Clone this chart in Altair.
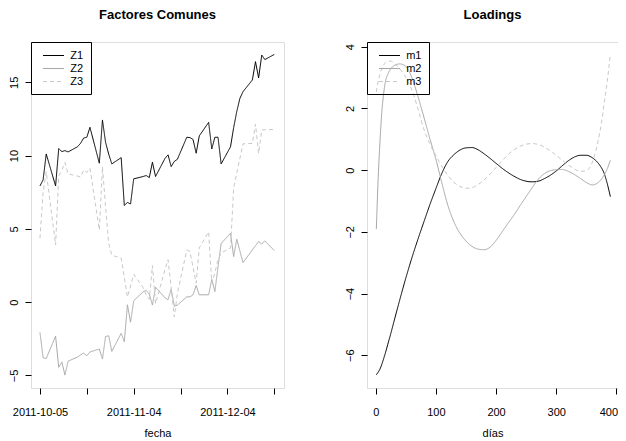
import altair as alt
import pandas as pd

# ---------------- data ----------------
fechas = ["2011-10-05", "2011-10-06", "2011-10-07", "2011-10-10", "2011-10-11", "2011-10-12", "2011-10-13", "2011-10-14",
          "2011-10-17", "2011-10-18", "2011-10-19", "2011-10-20", "2011-10-21",
          "2011-10-24", "2011-10-25", "2011-10-26", "2011-10-27", "2011-10-28",
          "2011-10-31", "2011-11-01", "2011-11-02", "2011-11-03", "2011-11-04",
          "2011-11-07", "2011-11-08", "2011-11-09", "2011-11-10", "2011-11-11",
          "2011-11-14", "2011-11-15", "2011-11-16", "2011-11-17", "2011-11-18",
          "2011-11-21", "2011-11-22", "2011-11-23", "2011-11-24", "2011-11-25",
          "2011-11-28", "2011-11-29", "2011-11-30", "2011-12-01", "2011-12-02",
          "2011-12-05", "2011-12-06", "2011-12-07", "2011-12-08", "2011-12-09",
          "2011-12-12", "2011-12-13", "2011-12-14", "2011-12-15", "2011-12-16",
          "2011-12-19"]

z1 = [7.93, 8.34, 10.11, 7.93, 10.48, 10.27, 10.34, 10.25,
      10.6, 10.84, 11.2, 11.25, 11.93,
      9.48, 12.43, 10.9, 10.1, 9.43,
      9.86, 6.6, 6.8, 6.7, 8.41,
      8.57, 8.64, 8.5, 9.55, 8.57,
      9.8, 10.05, 9.25, 9.6, 9.75,
      11.25, 11.23, 11.1, 10.16, 11.34,
      12.27, 10.45, 11.25, 11.25, 9.43,
      10.6, 11.9, 13.0, 13.9, 14.36,
      15.16, 16.41, 15.3, 16.86, 16.55,
      16.9]

z2 = [-2.07, -3.8, -3.85, -2.32, -4.45, -4.08, -4.98, -4.03,
      -3.75, -3.6, -3.48, -3.66, -3.4,
      -3.2, -3.88, -2.34, -2.3, -3.36,
      -2.13, -2.7, -0.18, -1.37, 0.09,
      0.7, 0.8, 0.55, -0.2, 1.02,
      0.3, 0.16, 0.89, -0.28, -0.2,
      0.36, 0.36, 0.5, 1.13, 0.5,
      0.5, 1.55, 0.72, 2.4, 4.0,
      4.7, 3.11, 4.29, 3.5, 2.7,
      3.56, 3.85, 4.13, 3.97, 4.18,
      3.52]

z3 = [4.36, 7.5, 8.9, 3.9, 8.6, 9.0, 9.53, 8.75,
      8.6, 8.55, 9.0, 8.85, 9.15,
      4.93, 9.24, 6.5, 4.0, 3.2,
      3.0, 1.7, 0.35, 1.1, 1.9,
      1.0, 0.5, 0.2, 2.5, -0.1,
      2.2, 2.9, 1.0, -1.0, 0.6,
      3.56, 3.45, 2.4, 1.3, 3.7,
      4.8, 1.3, 2.0, 2.9, 3.35,
      3.7, 7.77, 8.8, 9.8, 10.8,
      10.83, 12.15, 10.15, 11.74, 11.76,
      11.78]

dias = [1, 4, 7, 10, 13, 16, 20, 25, 30, 40, 50, 60, 70, 80, 90, 100, 110, 120, 130, 140,
        150, 160, 170, 180, 190, 200, 210, 220, 230, 240, 250, 260, 270, 280, 290, 300,
        310, 320, 330, 340, 350, 360, 370, 375, 380, 385, 390]

m1 = [-6.63, -6.55, -6.45, -6.3, -6.12, -5.93, -5.65, -5.3, -4.93, -4.2, -3.5, -2.85, -2.25,
      -1.68, -1.12, -0.6, -0.1, 0.28, 0.5, 0.65, 0.72, 0.73, 0.66, 0.53, 0.38, 0.22, 0.06,
      -0.08, -0.2, -0.3, -0.36, -0.38, -0.36, -0.28, -0.17, -0.03, 0.14, 0.3, 0.42, 0.48,
      0.48, 0.4, 0.22, 0.08, -0.12, -0.45, -0.86]

m2 = [-1.91, -0.3, 0.9, 1.85, 2.45, 2.85, 3.1, 3.28, 3.38, 3.44, 3.36, 3.0, 2.4, 1.72, 1.02,
      0.35, -0.42, -1.15, -1.68, -2.05, -2.3, -2.47, -2.56, -2.58, -2.5, -2.28, -2.0, -1.72,
      -1.45, -1.15, -0.86, -0.57, -0.3, -0.12, -0.02, 0.01, 0.02, -0.04, -0.14, -0.27, -0.4,
      -0.48, -0.4, -0.3, -0.15, 0.05, 0.32]

m3 = [2.53, 2.87, 3.1, 3.28, 3.4, 3.48, 3.53, 3.53, 3.47, 3.28, 3.0, 2.6, 2.0, 1.33, 0.85,
      0.47, 0.12, -0.18, -0.4, -0.53, -0.59, -0.57, -0.47, -0.32, -0.13, 0.08, 0.3, 0.5,
      0.66, 0.77, 0.84, 0.86, 0.83, 0.75, 0.63, 0.48, 0.32, 0.17, 0.04, -0.04, -0.02, 0.25,
      0.98, 1.5, 2.2, 2.9, 3.76]

series_left = ["Z1", "Z2", "Z3"]
series_right = ["m1", "m2", "m3"]
fecha_ticks = ["2011-10-05", "2011-10-20", "2011-11-04", "2011-11-19", "2011-12-04", "2011-12-19"]
dias_ticks = [0, 100, 200, 300, 400]
left_y_ticks = [-5, 0, 5, 10, 15]
right_y_ticks = [-6, -4, -2, 0, 2, 4]

# ---------------- tables ----------------
n = len(fechas)
left_df = pd.DataFrame({
    "fecha": fechas * 3,
    "valor": z1 + z2 + z3,
    "serie": [series_left[0]] * n + [series_left[1]] * n + [series_left[2]] * n,
})
k = len(dias)
right_df = pd.DataFrame({
    "dias": dias * 3,
    "valor": m1 + m2 + m3,
    "serie": [series_right[0]] * k + [series_right[1]] * k + [series_right[2]] * k,
})

FONT = "Liberation Sans"
COLORS = ["#000000", "#A8A8A8", "#C8C8C8"]
DASHES = [[1, 0], [1, 0], [4, 3]]


def dt(s, hours=0):
    y, m, d = (int(p) for p in s.split("-"))
    return alt.DateTime(year=y, month=m, date=d, hours=hours, utc=True)


def legend():
    return alt.Legend(
        title=None, orient="top-left", offset=0, strokeColor="black",
        padding=7, symbolType="M-1.75,0H1.75", symbolSize=144, symbolStrokeWidth=1,
        symbolOffset=9, labelOffset=10.2, rowPadding=1,
        labelFont=FONT, labelFontSize=11, labelColor="black",
    )


def y_axis(vals):
    return alt.Axis(
        values=vals, grid=False, domain=False, tickColor="black", tickSize=6,
        labelAngle=270, labelAlign="center", labelBaseline="bottom", labelPadding=6,
        labelFont=FONT, labelFontSize=11, labelColor="black", labelFlush=False,
        labelOverlap=False,
    )


def x_axis(title, vals, label_expr=None, label_offset=None):
    kw = dict(
        values=vals, title=title, grid=False, domain=False, tickColor="black", tickSize=6,
        labelFont=FONT, labelFontSize=11, labelColor="black", labelPadding=12,
        labelFlush=False, labelOverlap=False, labelBaseline="top",
        titleFont=FONT, titleFontSize=11, titleFontWeight="normal", titleColor="black",
        titlePadding=10,
    )
    if label_expr:
        kw["labelExpr"] = label_expr
    if label_offset is not None:
        kw["labelOffset"] = label_offset
    return alt.Axis(**kw)


def title(text):
    return alt.TitleParams(text, font=FONT, fontSize=13, fontWeight="bold", color="black",
                           anchor="middle", frame="group", offset=10, baseline="alphabetic")


left = alt.Chart(left_df, title=title("Factores Comunes")).mark_line(strokeWidth=1).encode(
    x=alt.X("fecha:T",
            scale=alt.Scale(type="utc", domain=[dt("2011-10-02", 3), dt("2011-12-22", 3)], nice=False),
            axis=x_axis("fecha", [dt(s) for s in fecha_ticks],
                        "utcdate(datum.value) < 10 ? utcFormat(datum.value, '%Y-%m-%d') : ''")),
    y=alt.Y("valor:Q", title=None, scale=alt.Scale(domain=[-5.86, 17.75], nice=False, zero=False),
            axis=y_axis(left_y_ticks)),
    color=alt.Color("serie:N", scale=alt.Scale(domain=series_left, range=COLORS), legend=legend()),
    strokeDash=alt.StrokeDash("serie:N", scale=alt.Scale(domain=series_left, range=DASHES), legend=legend()),
    detail="serie:N",
).properties(width=253, height=346)

right = alt.Chart(right_df, title=title("Loadings")).mark_line(strokeWidth=1, interpolate="monotone").encode(
    x=alt.X("dias:Q", scale=alt.Scale(domain=[-14.5, 402.7], nice=False, zero=False),
            axis=x_axis("días", dias_ticks,
                        label_offset={"condition": {"test": "datum.value >= 400", "value": -8}, "value": 0})),
    y=alt.Y("valor:Q", title=None, scale=alt.Scale(domain=[-7.06, 4.15], nice=False, zero=False),
            axis=y_axis(right_y_ticks)),
    color=alt.Color("serie:N", scale=alt.Scale(domain=series_right, range=COLORS), legend=legend()),
    strokeDash=alt.StrokeDash("serie:N", scale=alt.Scale(domain=series_right, range=DASHES), legend=legend()),
    detail="serie:N",
).properties(width=251, height=346)

chart = alt.hconcat(left, right, spacing=83, bounds="flush").resolve_scale(
    color="independent", strokeDash="independent"
).properties(
    autosize=alt.AutoSizeParams(type="none"),
    padding={"left": 23, "top": 34, "right": 587, "bottom": 391},
).configure_view(
    stroke="black", strokeWidth=1
).configure(background="white")

chart.save("out.html", embed_options={"renderer": "svg", "actions": False})
